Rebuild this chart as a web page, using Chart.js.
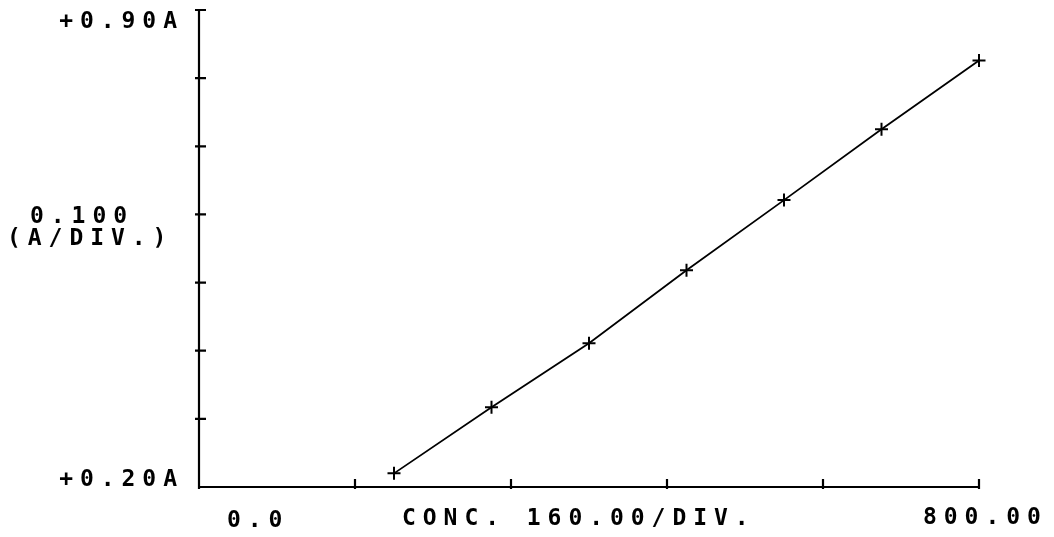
<!DOCTYPE html>
<html><head><meta charset="utf-8">
<script src="https://cdn.jsdelivr.net/npm/chart.js@4.4.1/dist/chart.umd.min.js"></script>
<style>html,body{margin:0;padding:0;background:#fff;}canvas{display:block;}</style>
</head><body>
<canvas id="c" width="1054" height="537"></canvas>
<script>
// Data
const concentrations = [200, 300, 400, 500, 600, 700, 800];
const absorbance = [0.220, 0.317, 0.411, 0.518, 0.621, 0.725, 0.826];
const xMin = 0, xMax = 800, xStep = 160;
const yMin = 0.2, yMax = 0.9, yStep = 0.1;
const yEndLabels = ['+0.20A', '+0.90A'];
const yUnitLabel = ['0.100', '(A/DIV.)'];
const xEndLabels = ['0.0', '800.00'];
const xTitle = 'CONC. 160.00/DIV.';

const FONT = 'bold 23px "DejaVu Sans Mono", monospace';
const PITCH = 20.8;

function spaced(ctx, text, x, y, align) {
  const w = PITCH * (text.length - 1) + ctx.measureText(text[text.length-1]).width;
  let x0 = x;
  if (align === 'right') x0 = x - w;
  else if (align === 'center') x0 = x - w / 2;
  for (let i = 0; i < text.length; i++) ctx.fillText(text[i], x0 + i * PITCH, y);
}

const plotterPlugin = {
  id: 'plotter',
  afterDraw(chart) {
    const ctx = chart.ctx;
    const xs = chart.scales.x, ys = chart.scales.y;
    const ax = xs.getPixelForValue(xMin), ay = ys.getPixelForValue(yMin);
    ctx.save();
    ctx.strokeStyle = '#000';
    ctx.lineWidth = 2.2;
    ctx.beginPath();
    ctx.moveTo(ax, ys.getPixelForValue(yMax));
    ctx.lineTo(ax, ay);
    ctx.lineTo(xs.getPixelForValue(xMax), ay);
    ys.ticks.forEach(t => {
      const py = ys.getPixelForValue(t.value);
      if (Math.abs(t.value - yMin) < 1e-6) return;
      ctx.moveTo(ax - 4, py); ctx.lineTo(ax + 7, py);
    });
    xs.ticks.forEach(t => {
      const px = xs.getPixelForValue(t.value);
      ctx.moveTo(px, ay - 8); ctx.lineTo(px, ay + 2);
    });
    ctx.stroke();
    ctx.fillStyle = '#000';
    ctx.font = FONT;
    ctx.textBaseline = 'alphabetic';
    ctx.textAlign = 'left';
    spaced(ctx, yEndLabels[1], ax - 22, ys.getPixelForValue(yMax) + 18, 'right');
    spaced(ctx, yEndLabels[0], ax - 22, ay - 1, 'right');
    const uy = ys.getPixelForValue(0.6);
    spaced(ctx, yUnitLabel[0], 30, uy + 9, 'left');
    spaced(ctx, yUnitLabel[1], 7, uy + 31, 'left');
    spaced(ctx, xEndLabels[0], ax + 28, ay + 40, 'left');
    spaced(ctx, xEndLabels[1], xs.getPixelForValue(xMax) - 56, ay + 37, 'left');
    spaced(ctx, xTitle, 402, ay + 38, 'left');
    ctx.restore();
  }
};

new Chart(document.getElementById('c'), {
  type: 'line',
  data: {
    datasets: [{
      data: concentrations.map((x, i) => ({x: x, y: absorbance[i]})),
      borderColor: '#000',
      borderWidth: 1.8,
      backgroundColor: '#000',
      pointStyle: 'cross',
      pointRadius: 6.5,
      pointBorderWidth: 2,
      pointBorderColor: '#000',
      tension: 0,
      fill: false,
      clip: false
    }]
  },
  options: {
    responsive: false,
    animation: false,
    devicePixelRatio: 1,
    layout: { padding: { left: 199, right: 75, top: 10, bottom: 50 } },
    plugins: { legend: { display: false }, tooltip: { enabled: false } },
    scales: {
      x: {
        type: 'linear', min: xMin, max: xMax,
        ticks: { stepSize: xStep, display: false },
        grid: { display: false, drawTicks: false },
        border: { display: false }
      },
      y: {
        type: 'linear', min: yMin, max: yMax,
        ticks: { stepSize: yStep, display: false },
        grid: { display: false, drawTicks: false },
        border: { display: false }
      }
    }
  },
  plugins: [plotterPlugin]
});
</script>
</body></html>
